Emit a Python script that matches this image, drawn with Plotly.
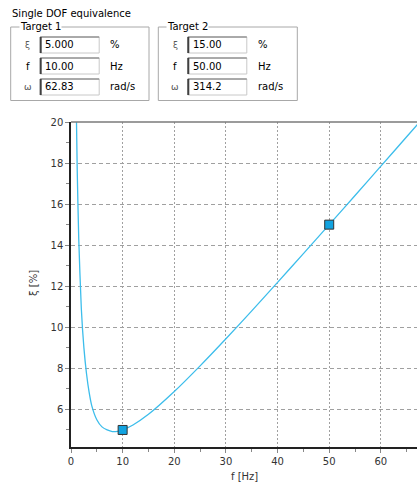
import plotly.graph_objects as go

# ---- data ----
f_curve = [1.0, 1.2, 1.5, 2.0, 2.5, 3.0, 3.5, 4.0, 5.0, 6.0, 7.0, 8.0, 9.0, 10.0,
           12.0, 15.0, 20.0, 25.0, 30.0, 35.0, 40.0, 45.0, 50.0, 55.0, 60.0, 65.0, 68.0]
xi_curve = [21.1, 17.7, 14.3, 10.9, 9.0, 7.75, 6.85, 6.2, 5.5, 5.15, 5.0, 4.92, 4.93, 5.00,
            5.24, 5.76, 6.87, 8.12, 9.44, 10.8, 12.19, 13.59, 15.0, 16.42, 17.85, 19.28, 20.14]
target_f = [10.0, 50.0]
target_xi = [5.0, 15.0]

panel_title = "Single DOF equivalence"
group_titles = ["Target 1", "Target 2"]
row_symbols = ["ξ", "f", "ω"]
row_units = ["%", "Hz", "rad/s"]
field_values = [["5.000", "10.00", "62.83"], ["15.00", "50.00", "314.2"]]

x_range = [0, 67]
y_range = [4.17, 20]

# ---- layout geometry (pixels) ----
W, H = 417, 484
L, R, T, B = 71, 417, 122, 447


def px(x):
    return (x - L) / (R - L)


def py(y):
    return (B - y) / (B - T)


FONT = "DejaVu Sans"

fig = go.Figure()
fig.add_trace(go.Scatter(x=f_curve, y=xi_curve, mode="lines",
                         line=dict(color="#3CBDEB", width=1.3, shape="spline", smoothing=0.6),
                         hoverinfo="skip", showlegend=False))
fig.add_trace(go.Scatter(x=target_f, y=target_xi, mode="markers",
                         marker=dict(symbol="square", size=9, color="#12A3E0",
                                     line=dict(color="#333333", width=1)),
                         showlegend=False, cliponaxis=False))

shapes = []
annotations = []

annotations.append(dict(text=panel_title, x=px(10), y=py(14), xref="paper", yref="paper",
                        xanchor="left", yanchor="middle", showarrow=False,
                        font=dict(family=FONT, size=10, color="#000000")))

group_x = [(10.7, 149), (158.3, 297.3)]
row_y = [45, 66, 87]
sym_style = [dict(size=9, color="#555555"), dict(size=10, color="#000000"), dict(size=9, color="#555555")]
for g in range(2):
    gx0, gx1 = group_x[g]
    shapes.append(dict(type="rect", xref="paper", yref="paper",
                       x0=px(gx0), x1=px(gx1), y0=py(100.5), y1=py(27),
                       line=dict(color="#A8A8A8", width=1)))
    annotations.append(dict(text=group_titles[g], x=px(gx0 + 8), y=py(27), xref="paper", yref="paper",
                            xanchor="left", yanchor="middle", showarrow=False, bgcolor="white",
                            borderpad=0,
                            font=dict(family=FONT, size=10, color="#000000")))
    for r in range(3):
        cy = row_y[r]
        bx0 = gx0 + 29.5
        bx1 = gx0 + 88.5
        by0 = cy - 8
        by1 = cy + 8
        shapes.append(dict(type="rect", xref="paper", yref="paper",
                           x0=px(bx0), x1=px(bx1), y0=py(by1), y1=py(by0),
                           fillcolor="white", line=dict(color="#C8C8C8", width=1)))
        shapes.append(dict(type="line", xref="paper", yref="paper",
                           x0=px(bx0), x1=px(bx1), y0=py(by0), y1=py(by0),
                           line=dict(color="#707070", width=1)))
        shapes.append(dict(type="line", xref="paper", yref="paper",
                           x0=px(bx0 + 0.5), x1=px(bx0 + 0.5), y0=py(by1), y1=py(by0),
                           line=dict(color="#404040", width=2)))
        annotations.append(dict(text=row_symbols[r], x=px(gx0 + 17), y=py(cy), xref="paper", yref="paper",
                                xanchor="center", yanchor="middle", showarrow=False,
                                font=dict(family=FONT, **sym_style[r])))
        annotations.append(dict(text=field_values[g][r], x=px(bx0 + 3), y=py(cy), xref="paper", yref="paper",
                                xanchor="left", yanchor="middle", showarrow=False,
                                font=dict(family=FONT, size=10, color="#000000")))
        annotations.append(dict(text=row_units[r], x=px(gx0 + 97.5), y=py(cy), xref="paper", yref="paper",
                                xanchor="left", yanchor="middle", showarrow=False,
                                font=dict(family=FONT, size=10, color="#000000")))

# top border of the plot area
shapes.append(dict(type="line", xref="paper", yref="paper", x0=0, x1=1, y0=1, y1=1,
                   line=dict(color="#7A7A7A", width=1.5)))

# axis titles
annotations.append(dict(text="ξ [%]", x=px(33), y=py(283), xref="paper", yref="paper",
                        textangle=-90, xanchor="center", yanchor="middle", showarrow=False,
                        font=dict(family=FONT, size=10, color="#333333")))
annotations.append(dict(text="f [Hz]", x=px(244), y=py(476), xref="paper", yref="paper",
                        xanchor="center", yanchor="middle", showarrow=False,
                        font=dict(family=FONT, size=10, color="#333333")))

fig.update_layout(
    width=W, height=H,
    margin=dict(l=L, r=W - R, t=T, b=H - B, pad=0),
    paper_bgcolor="white", plot_bgcolor="white",
    shapes=shapes, annotations=annotations,
    showlegend=False,
    xaxis=dict(range=x_range, tick0=0, dtick=10, showgrid=True, gridcolor="#A0A0A0",
               griddash="2px,2px", gridwidth=1, zeroline=False,
               showline=True, linecolor="#222222", linewidth=1.5,
               ticks="outside", ticklen=4, tickcolor="#888888",
               minor=dict(tick0=0, dtick=5, ticks="outside", ticklen=3, tickcolor="#888888", showgrid=False),
               tickfont=dict(family=FONT, size=10, color="#333333"), fixedrange=True),
    yaxis=dict(range=y_range, tick0=0, dtick=2, showgrid=True, gridcolor="#A0A0A0",
               griddash="4px,3px", gridwidth=1, zeroline=False,
               showline=True, linecolor="#222222", linewidth=1.5,
               ticks="outside", ticklen=4, tickcolor="#888888",
               minor=dict(tick0=0, dtick=1, ticks="outside", ticklen=3, tickcolor="#888888", showgrid=False),
               tickfont=dict(family=FONT, size=10, color="#333333"), fixedrange=True),
)

fig.write_html("out.html", config={"displayModeBar": False},
               post_script="document.body.style.margin='0';document.body.style.overflow='hidden';")
